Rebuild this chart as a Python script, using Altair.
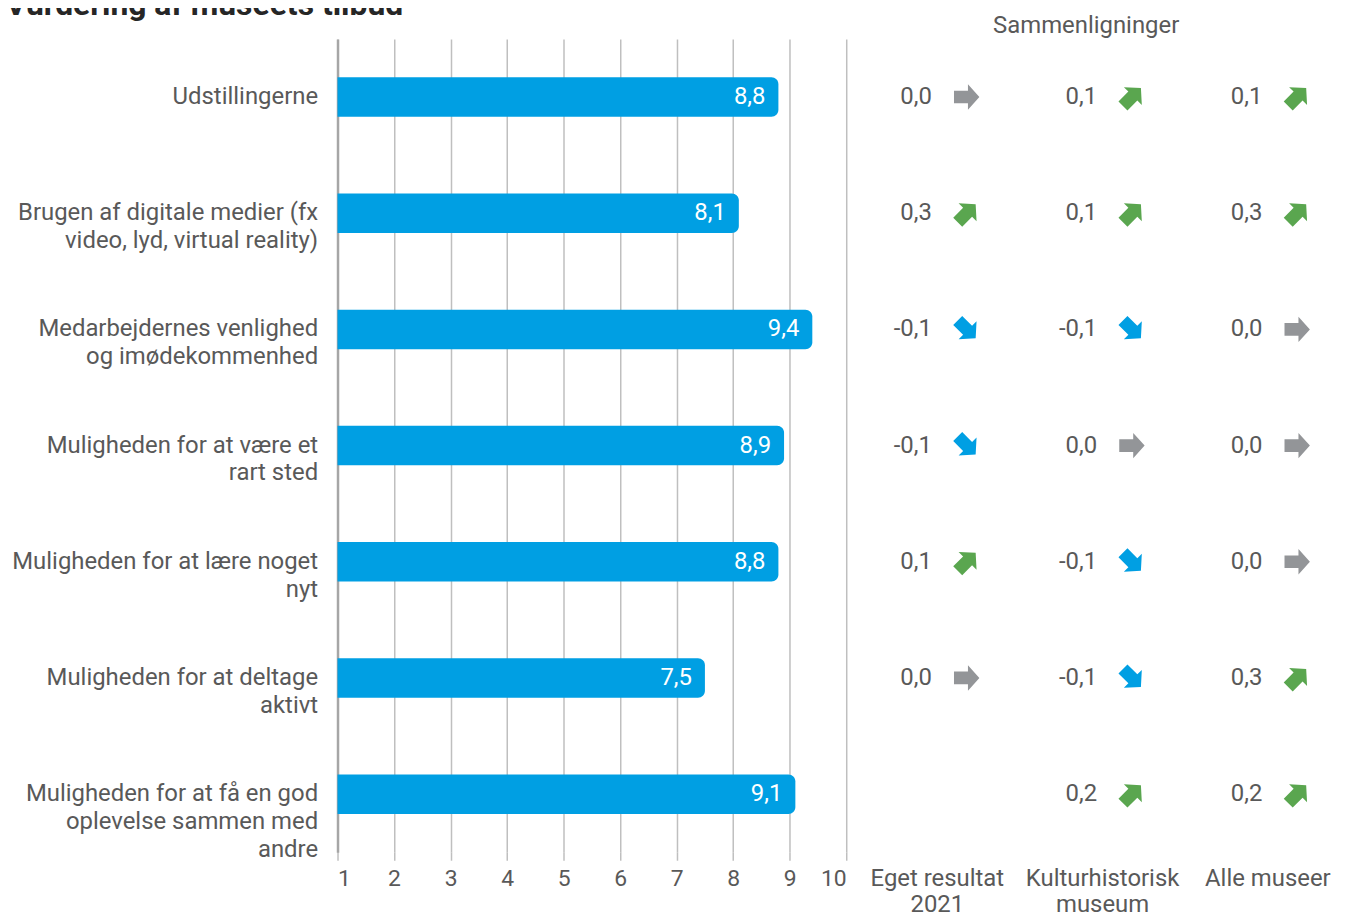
import altair as alt
import pandas as pd

title_text = "Vurdering af museets tilbud"
comparison_title = "Sammenligninger"
categories = [
    "Udstillingerne",
    "Brugen af digitale medier (fx|video, lyd, virtual reality)",
    "Medarbejdernes venlighed|og imødekommenhed",
    "Muligheden for at være et|rart sted",
    "Muligheden for at lære noget|nyt",
    "Muligheden for at deltage|aktivt",
    "Muligheden for at få en god|oplevelse sammen med|andre",
]
scores = [8.8, 8.1, 9.4, 8.9, 8.8, 7.5, 9.1]
comparison_names = ["Eget resultat|2021", "Kulturhistorisk|museum", "Alle museer"]
eget_2021 = [0.0, 0.3, -0.1, -0.1, 0.1, 0.0, None]
kulturhistorisk = [0.1, 0.1, -0.1, 0.0, -0.1, -0.1, 0.2]
alle_museer = [0.1, 0.3, 0.0, 0.0, 0.0, 0.3, 0.2]
x_ticks = list(range(1, 11))

TEXT = "#595959"
BAR = "#009FE3"
GREEN = "#5AA64F"
GRAY = "#939598"
GRID = "#BFBFBF"
FONT = "Roboto"
FS = 24
ARROW = "M-1,-0.5L0.1,-0.5L0.1,-1L1,0L0.1,1L0.1,0.5L-1,0.5Z"


def fmt(v):
    return f"{v:.1f}".replace(".", ",")


bars_df = pd.DataFrame({"cat": categories, "score": scores, "label": [fmt(s) for s in scores]})

rows = []
for name, series in zip(comparison_names, [eget_2021, kulturhistorisk, alle_museer]):
    for cat, v in zip(categories, series):
        if v is None:
            continue
        d = "op" if v > 0 else ("ned" if v < 0 else "uændret")
        rows.append({"cat": cat, "col": name, "delta": v, "label": fmt(v), "dir": d})
comp_df = pd.DataFrame(rows)

yscale = alt.Scale(domain=categories, paddingInner=0.66, paddingOuter=0.33)

y_left = alt.Y(
    "cat:N",
    sort=categories,
    scale=yscale,
    axis=alt.Axis(
        title=None,
        labelExpr="split(datum.label, '|')",
        labelFontSize=FS,
        labelColor=TEXT,
        labelPadding=20,
        labelLineHeight=28,
        labelLimit=400,
        ticks=False,
        domain=True,
        domainColor="#A6A6A6",
        domainWidth=2.5,
    ),
)

x_left = alt.X(
    "score:Q",
    scale=alt.Scale(domain=[1, 10], nice=False, zero=False),
    axis=alt.Axis(
        values=x_ticks,
        format="d",
        title=None,
        grid=True,
        gridColor=GRID,
        gridWidth=1.5,
        domain=False,
        tickColor=GRID,
        tickWidth=1.5,
        tickSize=8,
        labelFontSize=23,
        labelColor=TEXT,
        labelPadding=7,
    ),
)

bars = alt.Chart(bars_df).mark_bar(
    color=BAR, cornerRadiusTopRight=7, cornerRadiusBottomRight=7
).encode(x=x_left, x2=alt.datum(1), y=y_left)

bar_text = alt.Chart(bars_df).mark_text(
    align="right", dx=-13, color="white", fontSize=FS, font=FONT
).encode(x="score:Q", y=alt.Y("cat:N", sort=categories), text="label:N")

left = alt.layer(bars, bar_text).properties(width=511, height=817)

x_right = alt.X(
    "col:N",
    sort=comparison_names,
    scale=alt.Scale(domain=comparison_names, paddingInner=0, paddingOuter=0, range=[7, 505]),
    axis=alt.Axis(
        title=None,
        labelExpr="split(datum.label, '|')",
        labelAngle=0,
        ticks=False,
        domain=False,
        grid=False,
        labelFontSize=FS,
        labelColor=TEXT,
        labelPadding=14,
        labelLineHeight=27,
    ),
)
y_right = alt.Y("cat:N", sort=categories, scale=yscale, axis=None)

base_r = alt.Chart(comp_df).encode(x=x_right, y=y_right)
comp_text = base_r.mark_text(align="right", dx=-5, fontSize=FS, color=TEXT, font=FONT).encode(
    text="label:N"
)
comp_arrows = base_r.mark_point(
    shape=ARROW, filled=True, size=650, opacity=1, strokeWidth=0
).transform_calculate(
    ang="datum.delta > 0 ? 315 : (datum.delta < 0 ? 45 : 0)"
).encode(
    xOffset=alt.value(30),
    color=alt.Color(
        "dir:N",
        scale=alt.Scale(domain=["op", "ned", "uændret"], range=[GREEN, BAR, GRAY]),
        legend=None,
    ),
    angle=alt.Angle("ang:Q", scale=None),
)

right = alt.layer(comp_text, comp_arrows).properties(
    width=480,
    height=817,
    title=alt.TitleParams(
        comparison_title, fontSize=FS, fontWeight="normal", color=TEXT, anchor="middle", offset=1
    ),
)

chart = (
    alt.hconcat(left, right, spacing=0)
    .properties(
        title=alt.TitleParams(
            title_text,
            anchor="start",
            frame="bounds",
            dx=-6,
            fontSize=32,
            fontWeight="bold",
            color="#262626",
            offset=-8,
        ),
        padding={"top": -21, "left": -3, "right": -2, "bottom": 0},
    )
    .configure(font=FONT)
    .configure_view(stroke=None)
)

chart.save("out.html", embed_options={"renderer": "svg", "actions": False})
